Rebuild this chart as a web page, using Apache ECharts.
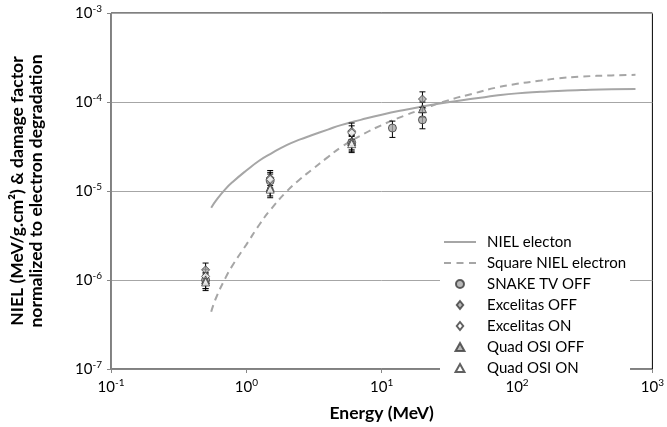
<!DOCTYPE html>
<html>
<head>
<meta charset="utf-8">
<script src="https://cdn.jsdelivr.net/npm/echarts@6/dist/echarts.min.js"></script>
<style>
  html, body { margin: 0; padding: 0; background: #fff; }
  #chart { width: 667px; height: 427px; }
</style>
</head>
<body>
<div id="chart"></div>
<script>
// curve energies (MeV)
const curveEnergy = [0.55, 0.6, 0.7, 0.8, 1, 1.25, 1.5, 2, 2.5, 3, 4, 5, 7, 10, 15, 20, 30, 50, 70, 100, 150, 200, 300, 500, 750]
const nielElectron = [6.5e-6, 7.9e-6, 1.05e-5, 1.28e-5, 1.7e-5, 2.2e-5, 2.6e-5, 3.3e-5, 3.8e-5, 4.2e-5, 4.9e-5, 5.5e-5, 6.3e-5, 7.2e-5, 8.2e-5, 8.9e-5, 9.9e-5, 1.1e-4, 1.18e-4, 1.25e-4, 1.3e-4, 1.33e-4, 1.36e-4, 1.39e-4, 1.4e-4]
const squareNiel = [4.4e-7, 6.4e-7, 1.05e-6, 1.5e-6, 2.5e-6, 4.2e-6, 6.1e-6, 1.0e-5, 1.36e-5, 1.7e-5, 2.4e-5, 3.1e-5, 4.2e-5, 5.5e-5, 7.1e-5, 8.3e-5, 1.03e-4, 1.27e-4, 1.45e-4, 1.6e-4, 1.74e-4, 1.84e-4, 1.93e-4, 1.99e-4, 2.02e-4]

// measured points: [energy, value, low, high]
const snakeTvOff = [[0.5, 1.0e-6, 0.8e-6, 1.2e-6], [1.5, 1.3e-5, 1.05e-5, 1.55e-5], [6, 3.5e-5, 2.8e-5, 4.2e-5], [12, 5.1e-5, 4.0e-5, 6.1e-5], [20, 6.3e-5, 5.0e-5, 7.6e-5]]
const excelitasOff = [[0.5, 1.3e-6, 1.05e-6, 1.55e-6], [1.5, 1.4e-5, 1.15e-5, 1.7e-5], [6, 4.7e-5, 3.8e-5, 5.8e-5], [20, 1.08e-4, 8.7e-5, 1.3e-4]]
const excelitasOn = [[0.5, 1.1e-6, 0.88e-6, 1.32e-6], [1.5, 1.35e-5, 1.08e-5, 1.62e-5], [6, 4.5e-5, 3.6e-5, 5.4e-5]]
const quadOsiOff = [[0.5, 1.0e-6, 0.8e-6, 1.2e-6], [1.5, 1.1e-5, 0.88e-5, 1.32e-5], [6, 3.6e-5, 2.9e-5, 4.3e-5], [20, 8.4e-5, 6.7e-5, 1.0e-4]]
const quadOsiOn = [[0.5, 0.95e-6, 0.76e-6, 1.14e-6], [1.5, 1.05e-5, 0.84e-5, 1.26e-5], [6, 3.4e-5, 2.7e-5, 4.1e-5]]

const xTickLabels = { '-1': '10{s|-1}', '0': '10{s|0}', '1': '10{s|1}', '2': '10{s|2}', '3': '10{s|3}' }
const yTickLabels = { '-7': '10{s|-7}', '-6': '10{s|-6}', '-5': '10{s|-5}', '-4': '10{s|-4}', '-3': '10{s|-3}' }

const FONT = 'Lato'
const LINE_GRAY = '#a6a6a6'
const MARK_EDGE = '#3a3a3a'
const MARK_FILL = '#a6a6a6'

// legend icons
const ICON_SOLID = 'path://M0,0h32v2h-32Z'
const ICON_DASHED = 'path://M0,0h7v2h-7ZM12.5,0h7v2h-7ZM25,0h7v2h-7Z'
const ICON_CIRCLE = 'path://M5,0A5,5 0 1 1 4.99,0Z'
const ICON_DIAMOND = 'path://M4,0L8,5L4,10L0,5Z'
const ICON_TRIANGLE = 'path://M5,0L10,9L0,9Z'

const allPoints = [].concat(snakeTvOff, excelitasOff, excelitasOn, quadOsiOff, quadOsiOn)

const labelRich = {
  s: { fontSize: 10, verticalAlign: 'top', padding: [0, 0, 9, 0], fontFamily: FONT, color: '#000' }
}

function pts(arr) {
  return arr.map(d => [d[0], d[1]])
}

function scatter(name, data, symbol, fill) {
  return {
    name: name,
    type: 'scatter',
    data: pts(data),
    symbol: symbol,
    symbolSize: 8,
    z: 5,
    itemStyle: { color: fill, borderColor: MARK_EDGE, borderWidth: 1 }
  }
}

const chart = echarts.init(document.getElementById('chart'))
chart.setOption({
  animation: false,
  grid: {
    left: 110, right: 14, top: 13, bottom: 55,
    show: true, borderColor: '#000', borderWidth: 1
  },
  legend: {
    orient: 'vertical',
    left: 440, top: 232,
    itemWidth: 32, itemHeight: 8, itemGap: 5,
    symbolKeepAspect: true,
    backgroundColor: '#fff',
    padding: [2, 4, 2, 4],
    textStyle: { fontFamily: FONT, fontSize: 15, color: '#000', padding: [0, 0, 0, 6], lineHeight: 16 },
    data: [
      { name: 'NIEL electon', icon: ICON_SOLID, itemStyle: { color: LINE_GRAY, borderWidth: 0 } },
      { name: 'Square NIEL electron', icon: ICON_DASHED, itemStyle: { color: LINE_GRAY, borderWidth: 0 } },
      { name: 'SNAKE TV OFF', icon: ICON_CIRCLE },
      { name: 'Excelitas OFF', icon: ICON_DIAMOND },
      { name: 'Excelitas ON', icon: ICON_DIAMOND },
      { name: 'Quad OSI OFF', icon: ICON_TRIANGLE },
      { name: 'Quad OSI ON', icon: ICON_TRIANGLE }
    ]
  },
  xAxis: {
    type: 'log', logBase: 10, min: 0.1, max: 1000,
    name: 'Energy (MeV)', nameLocation: 'middle', nameGap: 35,
    nameTextStyle: { fontFamily: FONT, fontSize: 17.5, fontWeight: 'bold', color: '#000' },
    axisLine: { lineStyle: { color: '#868686' } },
    axisTick: { show: true, length: 4, lineStyle: { color: '#868686' } },
    minorTick: { show: false },
    splitLine: { show: false },
    axisLabel: {
      fontFamily: FONT, fontSize: 15, color: '#000', margin: 9,
      formatter: v => xTickLabels[String(Math.round(Math.log10(v)))],
      rich: labelRich
    }
  },
  yAxis: {
    type: 'log', logBase: 10, min: 1e-7, max: 1e-3,
    name: 'NIEL (MeV/g.cm²) & damage factor\nnormalized to electron degradation',
    nameLocation: 'middle', nameGap: 65,
    nameTextStyle: { fontFamily: FONT, fontSize: 17.5, fontWeight: 'bold', color: '#000', lineHeight: 19 },
    axisLine: { lineStyle: { color: '#868686' } },
    axisTick: { show: true, length: 4, lineStyle: { color: '#868686' } },
    splitLine: { show: true, lineStyle: { color: LINE_GRAY, width: 1 } },
    axisLabel: {
      fontFamily: FONT, fontSize: 15, color: '#000', margin: 9,
      formatter: v => yTickLabels[String(Math.round(Math.log10(v)))],
      rich: labelRich
    }
  },
  series: [
    {
      name: 'NIEL electon',
      type: 'line',
      data: curveEnergy.map((e, i) => [e, nielElectron[i]]),
      smooth: true,
      symbol: 'none',
      z: 3,
      lineStyle: { color: LINE_GRAY, width: 2 },
      itemStyle: { color: LINE_GRAY }
    },
    {
      name: 'Square NIEL electron',
      type: 'line',
      data: curveEnergy.map((e, i) => [e, squareNiel[i]]),
      smooth: true,
      symbol: 'none',
      z: 3,
      lineStyle: { color: LINE_GRAY, width: 2, type: [7, 5] },
      itemStyle: { color: LINE_GRAY }
    },
    {
      name: 'errors',
      type: 'custom',
      z: 4,
      data: allPoints.map(d => [d[0], d[2], d[3]]),
      renderItem: function (params, api) {
        const lo = api.coord([api.value(0), api.value(1)])
        const hi = api.coord([api.value(0), api.value(2)])
        const cap = 3
        const style = { stroke: '#000', lineWidth: 1 }
        return {
          type: 'group',
          children: [
            { type: 'line', shape: { x1: lo[0], y1: lo[1], x2: hi[0], y2: hi[1] }, style: style },
            { type: 'line', shape: { x1: lo[0] - cap, y1: lo[1], x2: lo[0] + cap, y2: lo[1] }, style: style },
            { type: 'line', shape: { x1: hi[0] - cap, y1: hi[1], x2: hi[0] + cap, y2: hi[1] }, style: style }
          ]
        }
      }
    },
    scatter('SNAKE TV OFF', snakeTvOff, 'circle', MARK_FILL),
    scatter('Excelitas OFF', excelitasOff, 'diamond', MARK_FILL),
    scatter('Excelitas ON', excelitasOn, 'diamond', '#fff'),
    scatter('Quad OSI OFF', quadOsiOff, 'triangle', MARK_FILL),
    scatter('Quad OSI ON', quadOsiOn, 'triangle', '#fff')
  ]
})
</script>
</body>
</html>
